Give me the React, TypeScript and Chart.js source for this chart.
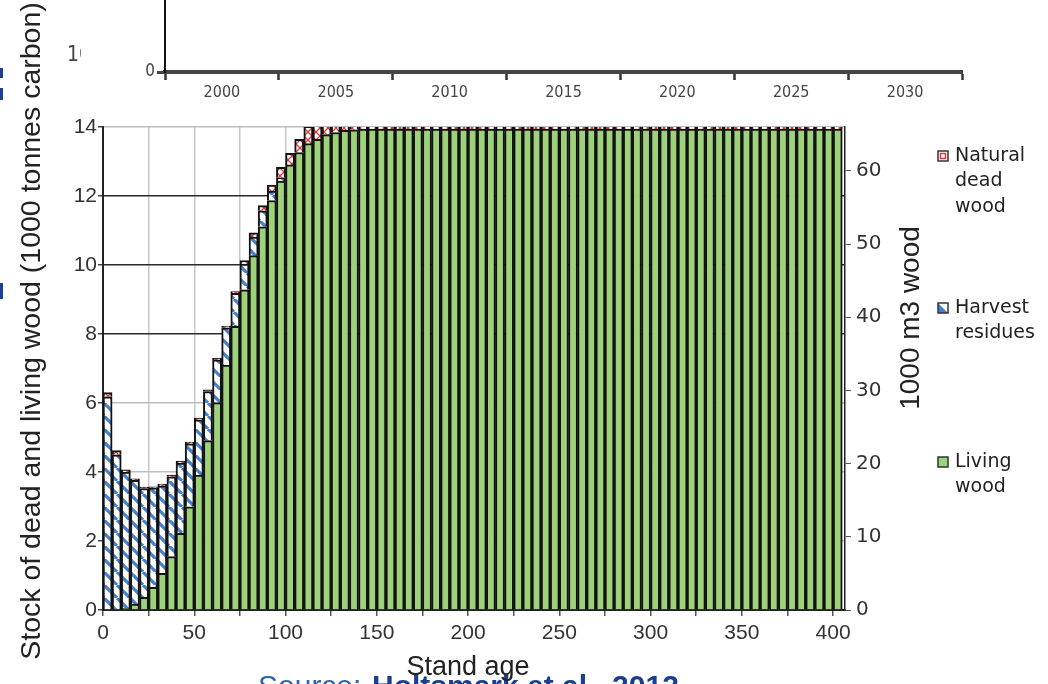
import React, { useEffect, useRef } from 'react';
import { Chart, registerables } from 'chart.js';

Chart.register(...registerables);

// ---------- data ----------
const standAges = [
  0, 5, 10, 15, 20, 25, 30, 35, 40, 45,
  50, 55, 60, 65, 70, 75, 80, 85, 90, 95,
  100, 105, 110, 115, 120, 125, 130, 135, 140, 145,
  150, 155, 160, 165, 170, 175, 180, 185, 190, 195,
  200, 205, 210, 215, 220, 225, 230, 235, 240, 245,
  250, 255, 260, 265, 270, 275, 280, 285, 290, 295,
  300, 305, 310, 315, 320, 325, 330, 335, 340, 345,
  350, 355, 360, 365, 370, 375, 380, 385, 390, 395,
  400,
];

const livingWood = [
  0, 0, 0.05, 0.17, 0.37, 0.66, 1.06, 1.55, 2.22, 2.99,
  3.91, 4.91, 6.01, 7.10, 8.22, 9.28, 10.27, 11.11, 11.87, 12.43,
  12.90, 13.26, 13.52, 13.64, 13.78, 13.84, 13.90, 13.92, 13.94, 13.94,
  13.94, 13.94, 13.94, 13.94, 13.94, 13.94, 13.94, 13.94, 13.94, 13.94,
  13.94, 13.94, 13.94, 13.94, 13.94, 13.94, 13.94, 13.94, 13.94, 13.94,
  13.94, 13.94, 13.94, 13.94, 13.94, 13.94, 13.94, 13.94, 13.94, 13.94,
  13.94, 13.94, 13.94, 13.94, 13.94, 13.94, 13.94, 13.94, 13.94, 13.94,
  13.94, 13.94, 13.94, 13.94, 13.94, 13.94, 13.94, 13.94, 13.94, 13.94,
  13.94,
];

const harvestResidues = [
  6.18, 4.50, 3.95, 3.59, 3.15, 2.88, 2.54, 2.31, 2.04, 1.83,
  1.60, 1.42, 1.24, 1.08, 0.96, 0.75, 0.54, 0.46, 0.27, 0.10,
  0, 0, 0, 0, 0, 0, 0, 0, 0, 0,
  0, 0, 0, 0, 0, 0, 0, 0, 0, 0,
  0, 0, 0, 0, 0, 0, 0, 0, 0, 0,
  0, 0, 0, 0, 0, 0, 0, 0, 0, 0,
  0, 0, 0, 0, 0, 0, 0, 0, 0, 0,
  0, 0, 0, 0, 0, 0, 0, 0, 0, 0,
  0,
];

const naturalDeadWood = [
  0.12, 0.12, 0.06, 0.04, 0.04, 0.03, 0.05, 0.05, 0.06, 0.05,
  0.05, 0.05, 0.05, 0.05, 0.05, 0.10, 0.12, 0.15, 0.18, 0.30,
  0.34, 0.38, 0.50, 0.50, 0.50, 0.50, 0.50, 0.50, 0.50, 0.50,
  0.50, 0.50, 0.50, 0.50, 0.50, 0.50, 0.50, 0.50, 0.50, 0.50,
  0.50, 0.50, 0.50, 0.50, 0.50, 0.50, 0.50, 0.50, 0.50, 0.50,
  0.50, 0.50, 0.50, 0.50, 0.50, 0.50, 0.50, 0.50, 0.50, 0.50,
  0.50, 0.50, 0.50, 0.50, 0.50, 0.50, 0.50, 0.50, 0.50, 0.50,
  0.50, 0.50, 0.50, 0.50, 0.50, 0.50, 0.50, 0.50, 0.50, 0.50,
  0.50,
];

const yearLabels = ['2000', '2005', '2010', '2015', '2020', '2025', '2030'];

const leftAxisTitle = 'Stock of dead and living wood (1000 tonnes carbon)';
const rightAxisTitle = '1000 m3 wood';
const xAxisTitle = 'Stand age';
const sourcePrefix = 'Source: ';
const sourceAuthors = 'Holtsmark et al., 2012';
const legendNatural = ['Natural', 'dead', 'wood'];
const legendHarvest = ['Harvest', 'residues'];
const legendLiving = ['Living', 'wood'];

// ---------- styles ----------
const GREEN = '#9dd17a';
const BLUE = '#4682cc';
const RED = '#e0393a';
const EDGE = '#111111';
const SANS = '"Liberation Sans", Arial, Helvetica, sans-serif';
const DEJA = '"DejaVu Sans", Verdana, sans-serif';
const NARROW = '"Liberation Sans Narrow", "Arial Narrow", "DejaVu Sans Condensed", sans-serif';

function makeHarvestPattern(ctx: CanvasRenderingContext2D) {
  const n = 13;
  const c = document.createElement('canvas');
  c.width = n; c.height = n;
  const g = c.getContext('2d')!;
  g.fillStyle = '#ffffff';
  g.fillRect(0, 0, n, n);
  g.strokeStyle = BLUE;
  g.lineWidth = 3.2;
  g.beginPath();
  for (const off of [-n, 0, n]) {
    g.moveTo(off, 0);
    g.lineTo(off + n, n);
  }
  g.stroke();
  return ctx.createPattern(c, 'repeat')!;
}

function makeDeadPattern(ctx: CanvasRenderingContext2D) {
  const c = document.createElement('canvas');
  c.width = 8; c.height = 8;
  const g = c.getContext('2d')!;
  g.fillStyle = '#ffffff';
  g.fillRect(0, 0, 8, 8);
  g.strokeStyle = RED;
  g.lineWidth = 1.3;
  g.beginPath();
  g.moveTo(0, 0); g.lineTo(8, 8);
  g.moveTo(8, 0); g.lineTo(0, 8);
  g.stroke();
  return ctx.createPattern(c, 'repeat')!;
}

export default function App() {
  const mainRef = useRef<HTMLCanvasElement>(null);
  const topRef = useRef<HTMLCanvasElement>(null);

  useEffect(() => {
    const mainCanvas = mainRef.current!;
    const topCanvas = topRef.current!;
    const mctx = mainCanvas.getContext('2d')!;
    const harvestPattern = makeHarvestPattern(mctx);
    const deadPattern = makeDeadPattern(mctx);

    const overlay = {
      id: 'slideOverlay',
      beforeDraw(chart: any) {
        const ctx = chart.ctx as CanvasRenderingContext2D;
        ctx.save();
        ctx.fillStyle = '#ffffff';
        ctx.fillRect(0, 0, chart.width, chart.height);
        // source line (partly cut off at the bottom)
        ctx.textBaseline = 'top';
        ctx.textAlign = 'left';
        ctx.font = '30px ' + SANS;
        ctx.fillStyle = '#2f64ad';
        ctx.fillText(sourcePrefix, 258, 673);
        ctx.font = 'bold 30px ' + SANS;
        ctx.fillStyle = '#1b3f90';
        ctx.fillText(sourceAuthors, 372, 673);
        // slide edge marks
        ctx.fillStyle = '#1c3f94';
        ctx.fillRect(0, 68, 3, 10);
        ctx.fillRect(0, 88, 3, 12);
        ctx.fillRect(0, 283, 3, 16);
        // clipped "10" of the figure behind
        ctx.save();
        ctx.beginPath();
        ctx.rect(0, 0, 81, 120);
        ctx.clip();
        ctx.font = '21px ' + NARROW;
        ctx.fillStyle = '#444';
        ctx.textBaseline = 'middle';
        ctx.fillText('10', 67, 56);
        ctx.restore();
        ctx.restore();
      },
      afterDraw(chart: any) {
        const ctx = chart.ctx as CanvasRenderingContext2D;
        ctx.save();
        ctx.fillStyle = '#222';
        ctx.textAlign = 'center';
        ctx.textBaseline = 'middle';
        // left title
        ctx.save();
        ctx.translate(32, 331);
        ctx.rotate(-Math.PI / 2);
        ctx.font = '28.5px ' + SANS;
        ctx.fillText(leftAxisTitle, 0, 0);
        ctx.restore();
        // right title
        ctx.save();
        ctx.translate(911, 318);
        ctx.rotate(-Math.PI / 2);
        ctx.font = '28px ' + SANS;
        ctx.fillText(rightAxisTitle, 0, 0);
        ctx.restore();
        // x title
        ctx.font = '27px ' + SANS;
        ctx.fillText(xAxisTitle, 468, 668);
        // legend
        const entries = [
          { lines: legendNatural, y: 156, kind: 'dead' },
          { lines: legendHarvest, y: 308, kind: 'harvest' },
          { lines: legendLiving, y: 462, kind: 'living' },
        ];
        ctx.textAlign = 'left';
        ctx.font = '19px ' + DEJA;
        for (const e of entries) {
          const bx = 938, by = e.y - 5, s = 10;
          if (e.kind === 'living') {
            ctx.fillStyle = GREEN;
            ctx.fillRect(bx, by, s, s);
          } else if (e.kind === 'harvest') {
            ctx.fillStyle = '#fff';
            ctx.fillRect(bx, by, s, s);
            ctx.fillStyle = BLUE;
            ctx.beginPath();
            ctx.moveTo(bx, by);
            ctx.lineTo(bx + s, by + s);
            ctx.lineTo(bx, by + s);
            ctx.closePath();
            ctx.fill();
          } else {
            ctx.fillStyle = '#fff';
            ctx.fillRect(bx, by, s, s);
            ctx.strokeStyle = RED;
            ctx.lineWidth = 1.5;
            ctx.strokeRect(bx + 2.5, by + 2.5, s - 5, s - 5);
          }
          ctx.strokeStyle = '#333';
          ctx.lineWidth = 1.5;
          ctx.strokeRect(bx, by, s, s);
          ctx.fillStyle = '#222';
          e.lines.forEach((t, i) => ctx.fillText(t, 955, e.y + i * 25.5));
        }
        ctx.restore();
      },
    };

    const main = new Chart(mainCanvas, {
      type: 'bar',
      data: {
        datasets: [
          {
            label: 'Living wood',
            data: standAges.map((a, i) => ({ x: a + 2.5, y: livingWood[i] })),
            backgroundColor: GREEN,
            borderColor: EDGE,
            borderWidth: 2,
            stack: 's',
          },
          {
            label: 'Harvest residues',
            data: standAges.map((a, i) => ({ x: a + 2.5, y: harvestResidues[i] })),
            backgroundColor: harvestPattern as any,
            borderColor: EDGE,
            borderWidth: 2,
            stack: 's',
          },
          {
            label: 'Natural dead wood',
            data: standAges.map((a, i) => ({ x: a + 2.5, y: naturalDeadWood[i] })),
            backgroundColor: deadPattern as any,
            borderColor: EDGE,
            borderWidth: 2,
            stack: 's',
          },
        ],
      },
      options: {
        animation: false,
        responsive: false,
        devicePixelRatio: 1,
        layout: { padding: { top: 127, left: 0, right: 0, bottom: 0 } },
        datasets: { bar: { barPercentage: 1, categoryPercentage: 1 } },
        plugins: { legend: { display: false }, tooltip: { enabled: false } },
        scales: {
          x: {
            type: 'linear',
            min: 0,
            max: 406.5,
            stacked: true,
            offset: false,
            grid: { offset: false, color: '#c8c8c8', lineWidth: 1.5, tickLength: 6, tickColor: '#555' },
            border: { color: '#222', width: 2 },
            ticks: {
              stepSize: 25,
              includeBounds: false,
              autoSkip: false,
              maxRotation: 0,
              padding: 5,
              color: '#333',
              font: { family: SANS, size: 21 },
              callback: (v: any) => (Number(v) % 50 === 0 ? String(v) : ''),
            },
            afterFit: (s: any) => { s.height = 74; },
          },
          y: {
            position: 'left',
            min: 0,
            max: 14,
            stacked: true,
            grid: {
              color: (c: any) => (c.tick && c.tick.value >= 8 && c.tick.value <= 12 ? '#2a2a2a' : '#bdbdbd'),
              lineWidth: 1.5,
              tickLength: 5,
              tickColor: '#444',
            },
            border: { color: '#222', width: 2 },
            ticks: { stepSize: 2, padding: 1, color: '#333', font: { family: SANS, size: 21 } },
            afterFit: (s: any) => { s.width = 103; },
          },
          y2: {
            position: 'right',
            min: 0,
            max: 66,
            grid: { drawOnChartArea: false, tickLength: 6, tickColor: '#555' },
            border: { color: '#222', width: 1.5 },
            ticks: { stepSize: 10, includeBounds: false, padding: 5, color: '#333', font: { family: DEJA, size: 20 } },
            afterFit: (s: any) => { s.width = 203; },
          },
        },
      },
      plugins: [overlay],
    } as any);

    const top = new Chart(topCanvas, {
      type: 'bar',
      data: { labels: yearLabels, datasets: [] },
      options: {
        animation: false,
        responsive: false,
        devicePixelRatio: 1,
        layout: { padding: { top: 40, left: 0, right: 86, bottom: 0 } },
        plugins: { legend: { display: false }, tooltip: { enabled: false } },
        scales: {
          x: {
            type: 'category',
            offset: true,
            grid: { offset: true, drawOnChartArea: false, tickLength: 8, tickColor: '#333', tickWidth: 2.5 },
            border: { color: '#444', width: 4 },
            ticks: { color: '#444', padding: 3, maxRotation: 0, autoSkip: false, font: { family: NARROW, size: 16 } },
            afterFit: (s: any) => { s.height = 38; },
          },
          y: {
            min: 0,
            max: 10,
            grid: { drawOnChartArea: false, tickLength: 8, tickColor: '#444', tickWidth: 3 },
            border: { color: '#111', width: 2 },
            ticks: {
              stepSize: 10,
              padding: 2,
              color: '#444',
              font: { family: NARROW, size: 17 },
              callback: (v: any) => (Number(v) === 0 ? '0' : null),
            },
            afterFit: (s: any) => { s.width = 165; },
          },
        },
      },
    } as any);

    return () => {
      main.destroy();
      top.destroy();
    };
  }, []);

  return (
    <div style={{ position: 'absolute', left: 0, top: 0, width: 1048, height: 684, overflow: 'hidden', background: '#fff' }}>
      <canvas ref={mainRef} width={1048} height={684} style={{ position: 'absolute', left: 0, top: 0 }} />
      <canvas ref={topRef} width={1048} height={150} style={{ position: 'absolute', left: 0, top: -40 }} />
    </div>
  );
}
